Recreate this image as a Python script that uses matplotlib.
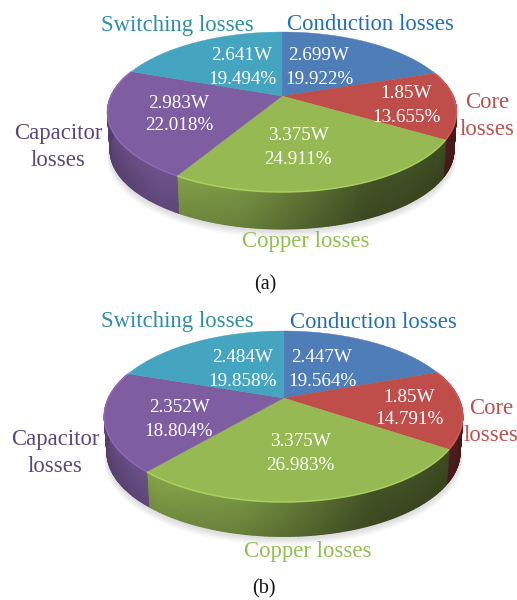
import numpy as np
import matplotlib
matplotlib.use('Agg')
import matplotlib.pyplot as plt
from matplotlib.colors import to_rgb

plt.rcParams['font.family'] = ['Liberation Serif', 'DejaVu Serif']

# order: conduction, core, copper, capacitor, switching (clockwise from the top)
names = ['Conduction losses', 'Core\nlosses', 'Copper losses', 'Capacitor\nlosses', 'Switching losses']
watts_a = [2.699, 1.85, 3.375, 2.983, 2.641]
watts_b = [2.447, 1.85, 3.375, 2.352, 2.484]
watt_labels_a = ['2.699W', '1.85W', '3.375W', '2.983W', '2.641W']
watt_labels_b = ['2.447W', '1.85W', '3.375W', '2.352W', '2.484W']
pct_labels_a = ['19.922%', '13.655%', '24.911%', '22.018%', '19.494%']
pct_labels_b = ['19.564%', '14.791%', '26.983%', '18.804%', '19.858%']

top_colors = ['#4f7db8', '#bf4e4b', '#97b954', '#7e5ea0', '#45a5c0']
name_colors = ['#1f70b8', '#c0504d', '#92c050', '#5a4878', '#2f8ea6']

fig = plt.figure(figsize=(5.17, 6.0), dpi=100)
ax = fig.add_axes([0, 0, 1, 1])
ax.set_xlim(0, 517)
ax.set_ylim(600, 0)
ax.axis('off')


def project(t, cx, cy, a, b, k, scale=1.0, dy=0.0):
    # circle seen in perspective, apex stays at the pie centre
    d = 1 + k * np.sin(t)
    return cx + scale * a * np.cos(t) / d, cy + dy - scale * b * np.sin(t) / d


def shade(c, f):
    return tuple(min(1, x * f) for x in to_rgb(c))


def pie3d(values, cx, cy, a, b, k, depth):
    values = np.array(values)
    edges = np.pi / 2 - 2 * np.pi * np.concatenate([[0], np.cumsum(values) / values.sum()])

    # soft shadow
    tt = np.linspace(0, 2 * np.pi, 200)
    for s in range(8, 0, -1):
        x, y = project(tt, cx, cy, a, b, k, scale=0.985 + s * 0.002, dy=depth + s * 0.9)
        ax.fill(x, y, color='#404040', alpha=0.022, lw=0)

    # outer wall, smooth mesh with the light coming from the left
    rows = np.linspace(0, 1, 5)
    for i, c in enumerate(top_colors):
        ts = np.linspace(edges[i], edges[i + 1], 90)
        ts = ts[np.sin(ts) < 0.3]
        if len(ts) < 2:
            continue
        X = np.zeros((len(rows), len(ts)))
        Y = np.zeros_like(X)
        C = np.zeros((len(rows), len(ts), 3))
        f = np.interp(np.cos(ts), [-1, -0.6, -0.2, 0.4, 1], [0.72, 0.84, 0.76, 0.43, 0.38])
        for r, v in enumerate(rows):
            X[r], Y[r] = project(ts, cx, cy, a, b, k, 1 - 0.015 * v, depth * v)
            for j in range(len(ts)):
                C[r, j] = shade(c, f[j] * (1.05 - 0.14 * v))
        ax.pcolormesh(X, Y, C, shading='gouraud')

    # top surface
    for i, c in enumerate(top_colors):
        ts = np.linspace(edges[i], edges[i + 1], 120)
        x, y = project(ts, cx, cy, a, b, k)
        ax.fill(np.r_[cx, x], np.r_[cy, y], color=c, lw=0.3, ec=c)
        front = np.sin(ts) < 0.35
        ax.plot(x[front], y[front], color=shade(c, 1.18), lw=1.1, alpha=0.8,
                solid_capstyle='butt')


def put_labels(name_pos, val_pos, watt_labels, pct_labels):
    for nm, c, (x, y) in zip(names, name_colors, name_pos):
        ax.text(x, y, nm, color=c, fontsize=name_size, ha='center', va='center',
                linespacing=1.38)
    for w, p, (x, y0, y1) in zip(watt_labels, pct_labels, val_pos):
        ax.text(x, y0, w, color='white', fontsize=val_size, ha='center', va='center')
        ax.text(x, y1, p, color='white', fontsize=val_size, ha='center', va='center')


name_size = 16.4
val_size = 13.8

pie3d(watts_a, 282, 96, 171, 76.8, 0.2, 38.5)
pie3d(watts_b, 283.5, 398, 175, 81.5, 0.2165, 36)

put_labels([(370, 25), (487, 116), (306, 242), (58, 147), (177, 25)],
           [(319, 55, 79), (406, 94, 117), (298, 136, 160), (179, 103, 126), (242, 55, 79)],
           watt_labels_a, pct_labels_a)
put_labels([(373, 322), (491, 422), (308, 551), (55, 453), (177, 322)],
           [(322, 358, 382), (409, 398, 420), (300, 442, 465), (179, 408, 432), (243, 358, 382)],
           watt_labels_b, pct_labels_b)

ax.text(265, 285, '(a)', fontsize=14.5, ha='center', va='center', color='#111111')
ax.text(264, 589, '(b)', fontsize=14.5, ha='center', va='center', color='#111111')

fig.savefig('out.png', dpi=100)
